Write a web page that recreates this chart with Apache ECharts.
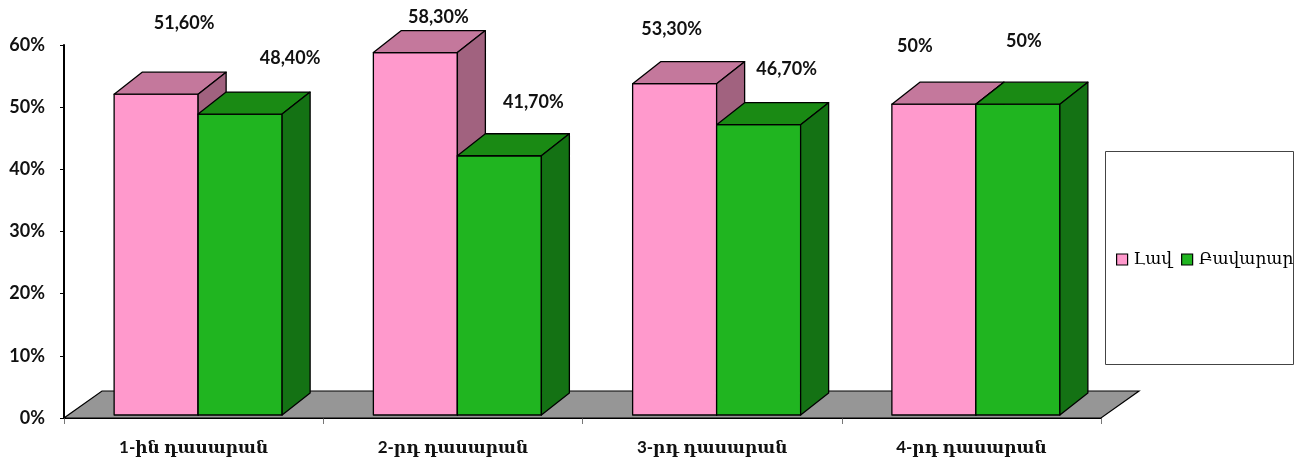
<!DOCTYPE html>
<html>
<head>
<meta charset="utf-8">
<script src="https://cdn.jsdelivr.net/npm/echarts@6/dist/echarts.min.js"></script>
<style>
  html, body { margin: 0; padding: 0; background: #fff; }
  #chart { width: 1299px; height: 461px; }
</style>
</head>
<body>
<div id="chart"></div>
<script>
// Grades by class: share of "Լավ" (good) and "Բավարար" (satisfactory)
const categories = ['1-ին դասարան', '2-րդ դասարան', '3-րդ դասարան', '4-րդ դասարան'];
const lavValues = [51.6, 58.3, 53.3, 50];
const bavararValues = [48.4, 41.7, 46.7, 50];
const seriesNames = ['Լավ', 'Բավարար'];
const yTicks = [0, 10, 20, 30, 40, 50, 60];

// Hand-placed value label nudges [dx, dy] from the top of each bar
const lavLabelNudge = [[14, -49], [9, -13], [-17, -32], [-33, -36]];
const bavararLabelNudge = [[36, -34], [20, -32], [14, -33], [-8, -41]];

const LATIN = 'Lato, "DejaVu Serif", sans-serif';
const ARM_SERIF = '"DejaVu Serif", serif';

// 3D look
const DEPTH_X = 28, DEPTH_Y = -22;       // bar depth
const FLOOR_X = 38, FLOOR_Y = -27;       // floor depth
const FRONT_X = 4.5, FRONT_Y = -3;       // bars sit a bit into the floor
const BAR_FRAC = 84 / 259.25;            // bar width as share of category band

const palettes = [
  { front: '#FF99CC', top: '#C4789C', side: '#A1627F' },
  { front: '#20B520', top: '#1A8A14', side: '#147214' }
];

function fmt(v) {
  return (Number.isInteger(v) ? String(v) : v.toFixed(2).replace('.', ',')) + '%';
}

function makeRender(idx, nudges) {
  const pal = palettes[idx];
  return function (params, api) {
    const cat = api.value(0);
    const val = api.value(1);
    const band = api.size([1, 0])[0];
    const w = band * BAR_FRAC;
    const center = api.coord([cat, 0])[0];
    const base = api.coord([cat, 0])[1] + FRONT_Y;
    const topY = api.coord([cat, val])[1] + FRONT_Y;
    const x0 = center + FRONT_X + (idx === 0 ? -w : 0);
    const x1 = x0 + w;
    const line = { stroke: '#000', lineWidth: 1.3, lineJoin: 'round' };
    const n = nudges[params.dataIndex];
    return {
      type: 'group',
      children: [
        { type: 'polygon', shape: { points: [[x0, base], [x1, base], [x1, topY], [x0, topY]] },
          style: Object.assign({ fill: pal.front }, line) },
        { type: 'polygon', shape: { points: [[x0, topY], [x1, topY], [x1 + DEPTH_X, topY + DEPTH_Y], [x0 + DEPTH_X, topY + DEPTH_Y]] },
          style: Object.assign({ fill: pal.top }, line) },
        { type: 'polygon', shape: { points: [[x1, base], [x1 + DEPTH_X, base + DEPTH_Y], [x1 + DEPTH_X, topY + DEPTH_Y], [x1, topY]] },
          style: Object.assign({ fill: pal.side }, line) },
        { type: 'text',
          style: {
            text: fmt(val),
            x: (x0 + x1) / 2 + DEPTH_X / 2 + n[0],
            y: topY + DEPTH_Y + n[1],
            align: 'center', verticalAlign: 'middle',
            font: 'bold 18px ' + LATIN, fill: '#111'
          } }
      ]
    };
  };
}

function renderFloor(params, api) {
  const cs = params.coordSys;
  const yb = cs.y + cs.height;
  const xl = cs.x, xr = cs.x + cs.width;
  return {
    type: 'polygon',
    shape: { points: [[xl, yb], [xr, yb], [xr + FLOOR_X, yb + FLOOR_Y], [xl + FLOOR_X, yb + FLOOR_Y]] },
    style: { fill: '#969696', stroke: '#000', lineWidth: 1.2 }
  };
}

const chart = echarts.init(document.getElementById('chart'));
chart.setOption({
  animation: false,
  backgroundColor: '#fff',
  grid: { left: 64, right: 198, top: 45, bottom: 43 },
  xAxis: {
    type: 'category',
    data: categories,
    boundaryGap: true,
    axisLine: { lineStyle: { color: '#000', width: 2 } },
    axisTick: { show: true, length: 6, lineStyle: { color: '#777', width: 1 } },
    axisLabel: { margin: 21, color: '#111', fontSize: 17, fontWeight: 'bold', fontFamily: LATIN }
  },
  yAxis: {
    type: 'value',
    min: yTicks[0],
    max: yTicks[yTicks.length - 1],
    interval: yTicks[1] - yTicks[0],
    splitLine: { show: false },
    axisLine: { show: true, lineStyle: { color: '#000', width: 2 } },
    axisTick: { show: true, length: 4, lineStyle: { color: '#000', width: 1 } },
    axisLabel: { margin: 19, color: '#111', fontSize: 18, fontWeight: 'bold', fontFamily: LATIN, formatter: '{value}%' }
  },
  legend: {
    data: seriesNames,
    left: 1111,
    top: 246,
    orient: 'horizontal',
    icon: 'rect',
    itemWidth: 11,
    itemHeight: 11,
    itemGap: 9,
    selectedMode: false,
    itemStyle: { borderColor: '#000', borderWidth: 1.2 },
    textStyle: { fontFamily: ARM_SERIF, fontSize: 17, color: '#000', padding: [0, 0, 0, 1] }
  },
  graphic: [
    { type: 'rect', left: 1103, top: 149, shape: { width: 188, height: 213 },
      style: { fill: 'none', stroke: '#444', lineWidth: 1 }, z: -1 }
  ],
  series: [
    { type: 'custom', name: 'floor', renderItem: renderFloor, data: [[0]], silent: true, z: 1 },
    { type: 'custom', name: seriesNames[0], renderItem: makeRender(0, lavLabelNudge),
      itemStyle: { color: palettes[0].front },
      data: lavValues.map((v, i) => [i, v]), z: 2 },
    { type: 'custom', name: seriesNames[1], renderItem: makeRender(1, bavararLabelNudge),
      itemStyle: { color: palettes[1].front },
      data: bavararValues.map((v, i) => [i, v]), z: 2 }
  ]
});
</script>
</body>
</html>
